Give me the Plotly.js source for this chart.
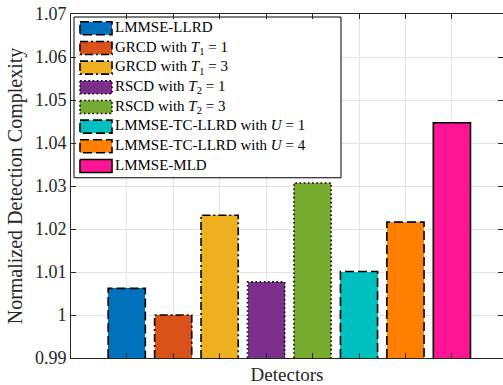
<!DOCTYPE html>
<html>
<head>
<meta charset="utf-8">
<script src="https://cdn.plot.ly/plotly-3.0.1.min.js"></script>
<style>
  html, body { margin: 0; padding: 0; background: #fff; }
  #chart { width: 503px; height: 385px; }
</style>
</head>
<body>
<div id="chart"></div>
<script>
// Detector names (legend labels) and their normalized complexity
const detectors = [
  'LMMSE-LLRD',
  'GRCD with <i>T</i><sub>1</sub> = 1',
  'GRCD with <i>T</i><sub>1</sub> = 3',
  'RSCD with <i>T</i><sub>2</sub> = 1',
  'RSCD with <i>T</i><sub>2</sub> = 3',
  'LMMSE-TC-LLRD with <i>U</i> = 1',
  'LMMSE-TC-LLRD with <i>U</i> = 4',
  'LMMSE-MLD'
];
const complexity = [1.0062, 1.0000, 1.0232, 1.0077, 1.0307, 1.0101, 1.0216, 1.0447];
const barColors = ['#0072BD', '#D95319', '#EDB120', '#7E2F8E', '#77AC30', '#00BFBF', '#FF8000', '#FF1493'];
const edgeDash = ['dash', 'dashdot', 'dashdot', 'dot', 'dot', 'dash', 'dash', 'solid'];
const yTicks = [0.99, 1.00, 1.01, 1.02, 1.03, 1.04, 1.05, 1.06, 1.07];
const yTickText = ['0.99', '1', '1.01', '1.02', '1.03', '1.04', '1.05', '1.06', '1.07'];

const FONT = 'Liberation Serif';
const BAR_W = 0.8;
const Y_RANGE = [0.99, 1.07];
const X_RANGE = [-0.2, 9.1];

// dash patterns for the black bar edges
const dashMap = {
  dash: '9px,4px',
  dashdot: '8px,3px,2px,3px',
  dot: '1.6px,2.6px',
  solid: 'solid'
};

const xs = complexity.map((_, i) => i + 1);
const traces = [];

// filled bars
traces.push({
  type: 'bar',
  x: xs,
  y: complexity,
  width: BAR_W,
  marker: { color: barColors, line: { width: 0 } },
  showlegend: false,
  hoverinfo: 'skip'
});

// edge outlines, one per bar, so each can carry its own line style
complexity.forEach((v, i) => {
  const x0 = xs[i] - BAR_W / 2, x1 = xs[i] + BAR_W / 2;
  traces.push({
    type: 'scatter',
    mode: 'lines',
    x: [x0, x0, x1, x1],
    y: [Y_RANGE[0], v, v, Y_RANGE[0]],
    line: { color: '#000', width: 1.6, dash: dashMap[edgeDash[i]] },
    showlegend: false,
    hoverinfo: 'skip'
  });
});

// plot area in pixels; the legend lives on a unit overlay axis pair
const L = 71, R = 503, T = 14, B = 358.5;
const px = x => (x - L) / (R - L);
const py = y => 1 - (y - T) / (B - T);
const rect = (x0, x1, y0, y1) => ({
  x: [px(x0), px(x1), px(x1), px(x0), px(x0)],
  y: [py(y0), py(y0), py(y1), py(y1), py(y0)]
});

// legend frame
const frame = rect(74, 341, 17, 178);
traces.push({
  type: 'scatter', mode: 'lines', xaxis: 'x2', yaxis: 'y2',
  x: frame.x, y: frame.y, fill: 'toself', fillcolor: '#fff',
  line: { color: '#000', width: 1 },
  showlegend: false, hoverinfo: 'skip'
});

// legend swatches
const rowY0 = 28.3, rowStep = 19.7;
const rowCenters = detectors.map((_, i) => rowY0 + i * rowStep);
detectors.forEach((name, i) => {
  const cy = rowCenters[i];
  const sw = rect(80, 112, cy - 6.5, cy + 6.5);
  traces.push({
    type: 'scatter', mode: 'lines', xaxis: 'x2', yaxis: 'y2',
    x: sw.x, y: sw.y, fill: 'toself', fillcolor: barColors[i],
    line: { color: '#000', width: 1.6, dash: dashMap[edgeDash[i]] },
    showlegend: false, hoverinfo: 'skip'
  });
});

// legend labels
traces.push({
  type: 'scatter', mode: 'text', xaxis: 'x2', yaxis: 'y2',
  x: detectors.map(() => px(115)),
  y: rowCenters.map(py),
  text: detectors,
  textposition: 'middle right',
  textfont: { family: FONT, size: 15, color: '#000' },
  cliponaxis: false,
  showlegend: false, hoverinfo: 'skip'
});

const layout = {
  width: 503, height: 385,
  margin: { l: L, r: 503 - R, t: T, b: 385 - B, pad: 0 },
  paper_bgcolor: '#fff',
  plot_bgcolor: '#fff',
  font: { family: FONT, color: '#262626' },
  showlegend: false,
  bargap: 0,
  xaxis: {
    range: X_RANGE,
    tickvals: xs,
    showticklabels: false,
    ticks: 'inside', ticklen: 5, tickwidth: 1, tickcolor: '#262626',
    showgrid: true, gridcolor: '#e3e3e3', gridwidth: 1,
    showline: true, linecolor: '#262626', linewidth: 1, mirror: 'ticks',
    zeroline: false,
    title: { text: 'Detectors', font: { family: FONT, size: 19, color: '#262626' }, standoff: 10 },
    fixedrange: true
  },
  yaxis: {
    range: Y_RANGE,
    tickvals: yTicks,
    ticktext: yTickText,
    ticks: 'inside', ticklen: 5, tickwidth: 1, tickcolor: '#262626',
    tickfont: { family: FONT, size: 18, color: '#262626' },
    showgrid: true, gridcolor: '#e3e3e3', gridwidth: 1,
    showline: true, linecolor: '#262626', linewidth: 1, mirror: 'ticks',
    zeroline: false,
    title: { text: 'Normalized Detection Complexity', font: { family: FONT, size: 20, color: '#262626' }, standoff: 6 },
    fixedrange: true
  },
  xaxis2: { overlaying: 'x', range: [0, 1], visible: false, fixedrange: true },
  yaxis2: { overlaying: 'y', range: [0, 1], visible: false, fixedrange: true }
};

Plotly.newPlot('chart', traces, layout, { displayModeBar: false, staticPlot: true });
</script>
</body>
</html>
